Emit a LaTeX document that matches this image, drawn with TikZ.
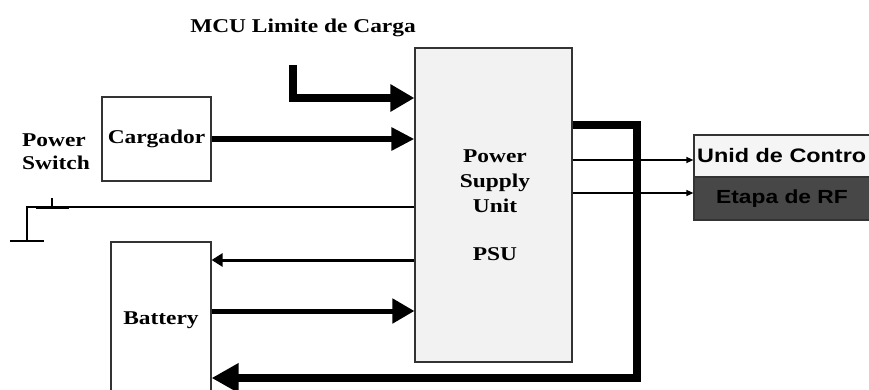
\documentclass[tikz,border=0pt]{standalone}
\usepackage{fontspec}
\setmainfont{Liberation Serif}[FakeStretch=1.2]
\newfontfamily\sansf{Liberation Sans}[FakeStretch=1.2]
\usetikzlibrary{arrows.meta,calc}
\begin{document}
\begin{tikzpicture}[x=1pt,y=-1pt,
  box/.style={draw=black!80, line width=1.2pt, inner sep=0pt},
  lbl/.style={font=\fontsize{19.5}{23}\selectfont\bfseries, inner sep=0pt},
  sanslbl/.style={font=\sansf\fontsize{19.5}{23}\selectfont\bfseries, inner sep=0pt},
  thinline/.style={line width=1.2pt},
]
\useasboundingbox (0,0) rectangle (869,390);

% boxes
\node[box, fill=black!5, minimum width=157pt, minimum height=314pt] (psu) at (493.5,205) {};
\node[box, lbl, minimum width=109pt, minimum height=84pt] (carg) at (156.5,139) {Cargador};
\node[box, minimum width=100pt, minimum height=158pt] (bat) at (161,321) {};
\node[box, fill=black!4, minimum width=190pt, minimum height=42pt] (unid) at (789,156) {};
\node[box, fill=black!72, minimum width=190pt, minimum height=43pt] (rf) at (789,198.5) {};

% texts
\node[lbl] (title) at (303,28) {MCU Limite de Carga};
\node[lbl, align=left, anchor=west] (psw) at (22,152) {Power\\Switch};
\node[lbl, align=center] (psut) at (495,181) {Power\\[2pt]Supply\\[2pt]Unit};
\node[lbl] (psul) at (495,254) {PSU};
\node[lbl] (batt) at (161,320) {Battery};
\node[sanslbl, anchor=west] (unidt) at (697,156) {Unid de Contro};
\node[sanslbl, font=\sansf\fontsize{19}{23}\selectfont\bfseries, text=black] (rft) at (782,199) {Etapa de RF};

% coordinates
\coordinate (mcu) at (293,65);
\coordinate (ymcu) at (0,98);
\coordinate (ysw) at (0,207);
\coordinate (gnd) at (27,241);
\coordinate (yb1) at (0,260);
\coordinate (yb2) at (0,311);
\coordinate (ylp) at (0,125);
\coordinate (c1) at (637,125);
\coordinate (c2) at (637,378);
\coordinate (yu) at (0,160);
\coordinate (yr) at (0,193);

% MCU arrow
\draw[line width=7.5pt, -{Triangle[length=24pt,width=26pt]}] (mcu) |- (psu.west |- ymcu);
% Cargador arrow
\draw[line width=6pt, -{Triangle[length=23pt,width=22pt]}] (carg.east) -- (carg.east -| psu.west);
% switch line and ground
\draw[thinline] (psu.west |- ysw) -| (gnd);
\draw[thinline] ($(gnd)+(-17,0)$) -- ($(gnd)+(17,0)$);
\draw[line width=3pt] (36,207) -- (69,207);
\draw[line width=2.5pt] (52,198) -- (52,207);
% battery arrows
\draw[line width=3pt, -{Triangle[length=11pt,width=13pt]}] (psu.west |- yb1) -- (bat.east |- yb1);
\draw[line width=5pt, -{Triangle[length=22pt,width=24pt]}] (bat.east |- yb2) -- (psu.west |- yb2);
% loop back
\draw[line width=7.5pt, -{Triangle[length=27pt,width=28pt]}] (psu.east |- ylp) -- (c1) -- (c2) -- (bat.east |- c2);
% outputs
\draw[thinline, -{Triangle[length=7pt,width=6pt]}] (psu.east |- yu) -- (unid.west |- yu);
\draw[thinline, -{Triangle[length=7pt,width=6pt]}] (psu.east |- yr) -- (rf.west |- yr);
\end{tikzpicture}
\end{document}
